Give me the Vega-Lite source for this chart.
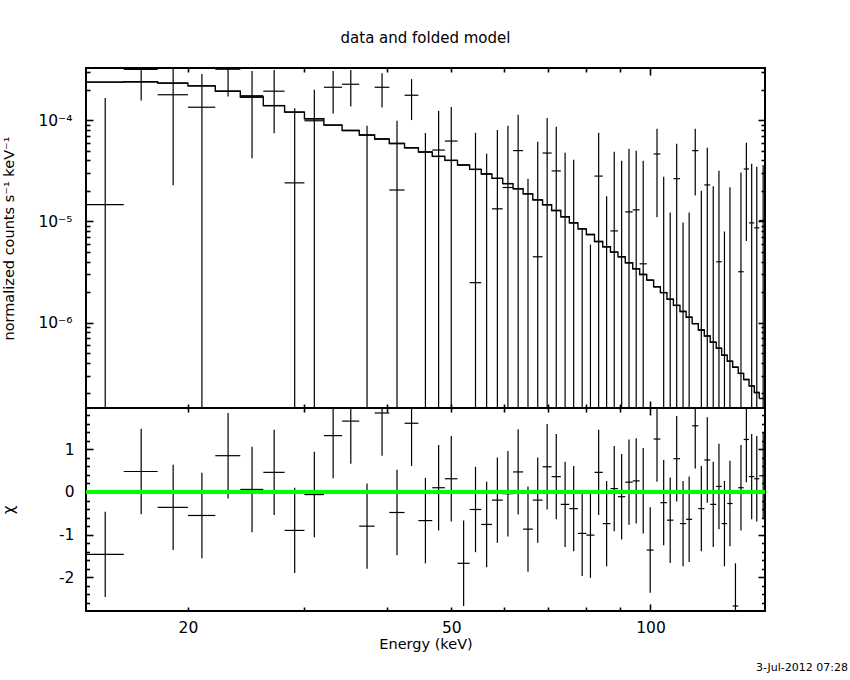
{
  "$schema": "https://vega.github.io/schema/vega-lite/v6.json",
  "background": "white",
  "padding": {"left": 0, "top": 31, "right": 2, "bottom": 2},
  "title": {"text": "data and folded model", "frame": "group", "anchor": "middle", "baseline": "alphabetic", "offset": 8, "font": "DejaVu Sans", "fontSize": 15, "fontWeight": "normal", "color": "black"},
  "data": {"values": [
    {"elo": 14, "ehi": 16, "e": 15, "m": 2.37e-4, "y": 1.46e-5, "ylo": 1e-8, "yhi": 1.65e-4, "chi": -1.46, "clo": -2.46, "chi_hi": -0.46},
    {"elo": 16, "ehi": 18, "e": 17, "m": 2.39e-4, "y": 3.16e-4, "ylo": 1.56e-4, "yhi": 4.8e-4, "chi": 0.48, "clo": -0.52, "chi_hi": 1.48},
    {"elo": 18, "ehi": 20, "e": 19, "m": 2.32e-4, "y": 1.78e-4, "ylo": 2.27e-5, "yhi": 3.33e-4, "chi": -0.36, "clo": -1.36, "chi_hi": 0.64},
    {"elo": 20, "ehi": 22, "e": 21, "m": 2.18e-4, "y": 1.34e-4, "ylo": 1e-8, "yhi": 2.86e-4, "chi": -0.55, "clo": -1.55, "chi_hi": 0.45},
    {"elo": 22, "ehi": 24, "e": 23, "m": 1.93e-4, "y": 3.18e-4, "ylo": 1.71e-4, "yhi": 4.65e-4, "chi": 0.85, "clo": -0.15, "chi_hi": 1.85},
    {"elo": 24, "ehi": 26, "e": 25, "m": 1.69e-4, "y": 1.74e-4, "ylo": 4.2e-5, "yhi": 3.06e-4, "chi": 0.06, "clo": -0.94, "chi_hi": 1.06},
    {"elo": 26, "ehi": 28, "e": 27, "m": 1.39e-4, "y": 1.93e-4, "ylo": 7.4e-5, "yhi": 3.13e-4, "chi": 0.46, "clo": -0.54, "chi_hi": 1.46},
    {"elo": 28, "ehi": 30, "e": 29, "m": 1.2e-4, "y": 2.4e-5, "ylo": 1e-8, "yhi": 1.31e-4, "chi": -0.9, "clo": -1.9, "chi_hi": 0.1},
    {"elo": 30, "ehi": 32.1, "e": 31.05, "m": 1.03e-4, "y": 9.85e-5, "ylo": 1e-8, "yhi": 1.99e-4, "chi": -0.06, "clo": -1.06, "chi_hi": 0.94},
    {"elo": 32.1, "ehi": 34.2, "e": 33.15, "m": 8.93e-5, "y": 2.11e-4, "ylo": 1.16e-4, "yhi": 3.06e-4, "chi": 1.32, "clo": 0.32, "chi_hi": 2.32},
    {"elo": 34.2, "ehi": 36.3, "e": 35.25, "m": 7.9e-5, "y": 2.26e-4, "ylo": 1.36e-4, "yhi": 3.13e-4, "chi": 1.66, "clo": 0.66, "chi_hi": 2.66},
    {"elo": 36.3, "ehi": 38.3, "e": 37.3, "m": 7.12e-5, "y": null, "ylo": 1e-8, "yhi": 8.79e-5, "chi": -0.8, "clo": -1.8, "chi_hi": 0.2},
    {"elo": 38.3, "ehi": 40.3, "e": 39.3, "m": 6.5e-5, "y": 2.11e-4, "ylo": 1.33e-4, "yhi": 2.9e-4, "chi": 1.85, "clo": 0.85, "chi_hi": 2.85},
    {"elo": 40.3, "ehi": 42.5, "e": 41.4, "m": 5.88e-5, "y": 2.04e-5, "ylo": 1e-8, "yhi": 9.85e-5, "chi": -0.48, "clo": -1.48, "chi_hi": 0.52},
    {"elo": 42.5, "ehi": 44.6, "e": 43.55, "m": 5.33e-5, "y": 1.76e-4, "ylo": 1.0e-4, "yhi": 2.54e-4, "chi": 1.61, "clo": 0.61, "chi_hi": 2.61},
    {"elo": 44.6, "ehi": 46.8, "e": 45.7, "m": 4.84e-5, "y": null, "ylo": 1e-8, "yhi": 7.44e-5, "chi": -0.67, "clo": -1.67, "chi_hi": 0.33},
    {"elo": 46.8, "ehi": 48.9, "e": 47.85, "m": 4.38e-5, "y": 5.06e-5, "ylo": 1e-8, "yhi": 1.24e-4, "chi": 0.1, "clo": -0.9, "chi_hi": 1.1},
    {"elo": 48.9, "ehi": 51.1, "e": 50.0, "m": 4.0e-5, "y": 6.21e-5, "ylo": 1e-8, "yhi": 1.35e-4, "chi": 0.31, "clo": -0.69, "chi_hi": 1.31},
    {"elo": 51.1, "ehi": 53.3, "e": 52.2, "m": 3.6e-5, "y": null, "ylo": null, "yhi": null, "chi": -1.67, "clo": -2.67, "chi_hi": -0.67},
    {"elo": 53.3, "ehi": 55.5, "e": 54.4, "m": 3.26e-5, "y": 2.48e-6, "ylo": 1e-8, "yhi": 7.5e-5, "chi": -0.41, "clo": -1.41, "chi_hi": 0.59},
    {"elo": 55.5, "ehi": 57.6, "e": 56.55, "m": 2.94e-5, "y": null, "ylo": 1e-8, "yhi": 4.66e-5, "chi": -0.76, "clo": -1.76, "chi_hi": 0.24},
    {"elo": 57.6, "ehi": 59.8, "e": 58.7, "m": 2.66e-5, "y": 1.33e-5, "ylo": 1e-8, "yhi": 8.0e-5, "chi": -0.19, "clo": -1.19, "chi_hi": 0.81},
    {"elo": 59.8, "ehi": 62.0, "e": 60.9, "m": 2.36e-5, "y": 2.16e-5, "ylo": 1e-8, "yhi": 8.8e-5, "chi": -0.04, "clo": -1.04, "chi_hi": 0.96},
    {"elo": 62.0, "ehi": 64.2, "e": 63.1, "m": 2.1e-5, "y": 5.0e-5, "ylo": 1e-8, "yhi": 1.13e-4, "chi": 0.47, "clo": -0.53, "chi_hi": 1.47},
    {"elo": 64.2, "ehi": 66.4, "e": 65.3, "m": 1.87e-5, "y": null, "ylo": 1e-8, "yhi": 2.64e-5, "chi": -0.87, "clo": -1.87, "chi_hi": 0.13},
    {"elo": 66.4, "ehi": 68.7, "e": 67.55, "m": 1.63e-5, "y": 4.47e-6, "ylo": 1e-8, "yhi": 6.1e-5, "chi": -0.19, "clo": -1.19, "chi_hi": 0.81},
    {"elo": 68.7, "ehi": 70.9, "e": 69.8, "m": 1.46e-5, "y": 4.73e-5, "ylo": 1e-8, "yhi": 1.05e-4, "chi": 0.59, "clo": -0.41, "chi_hi": 1.59},
    {"elo": 70.9, "ehi": 73.2, "e": 72.05, "m": 1.28e-5, "y": 3.15e-5, "ylo": 1e-8, "yhi": 8.6e-5, "chi": 0.36, "clo": -0.64, "chi_hi": 1.36},
    {"elo": 73.2, "ehi": 75.4, "e": 74.3, "m": 1.11e-5, "y": null, "ylo": 1e-8, "yhi": 4.77e-5, "chi": -0.29, "clo": -1.29, "chi_hi": 0.71},
    {"elo": 75.4, "ehi": 77.7, "e": 76.55, "m": 9.66e-6, "y": null, "ylo": 1e-8, "yhi": 4.06e-5, "chi": -0.39, "clo": -1.39, "chi_hi": 0.61},
    {"elo": 77.7, "ehi": 80.0, "e": 78.85, "m": 8.43e-6, "y": null, "ylo": 1e-8, "yhi": 8.6e-6, "chi": -0.97, "clo": -1.97, "chi_hi": 0.03},
    {"elo": 80.0, "ehi": 82.3, "e": 81.15, "m": 7.41e-6, "y": null, "ylo": 1e-8, "yhi": 5.9e-6, "chi": -1.01, "clo": -2.01, "chi_hi": -0.01},
    {"elo": 82.3, "ehi": 84.7, "e": 83.5, "m": 6.32e-6, "y": 2.8e-5, "ylo": 1e-8, "yhi": 7.5e-5, "chi": 0.46, "clo": -0.54, "chi_hi": 1.46},
    {"elo": 84.7, "ehi": 87.0, "e": 85.85, "m": 5.61e-6, "y": null, "ylo": 1e-8, "yhi": 1.77e-5, "chi": -0.74, "clo": -1.74, "chi_hi": 0.26},
    {"elo": 87.0, "ehi": 89.3, "e": 88.15, "m": 4.97e-6, "y": 8.05e-6, "ylo": 1e-8, "yhi": 4.87e-5, "chi": 0.08, "clo": -0.92, "chi_hi": 1.08},
    {"elo": 89.3, "ehi": 91.6, "e": 90.45, "m": 4.47e-6, "y": null, "ylo": 1e-8, "yhi": 3.97e-5, "chi": -0.11, "clo": -1.11, "chi_hi": 0.89},
    {"elo": 91.6, "ehi": 94.0, "e": 92.8, "m": 3.9e-6, "y": 1.24e-5, "ylo": 1e-8, "yhi": 5.21e-5, "chi": 0.23, "clo": -0.77, "chi_hi": 1.23},
    {"elo": 94.0, "ehi": 96.3, "e": 95.15, "m": 3.4e-6, "y": 1.3e-5, "ylo": 1e-8, "yhi": 4.99e-5, "chi": 0.26, "clo": -0.74, "chi_hi": 1.26},
    {"elo": 96.3, "ehi": 98.7, "e": 97.5, "m": 2.99e-6, "y": 3.81e-6, "ylo": 1e-8, "yhi": 3.97e-5, "chi": 0.03, "clo": -0.97, "chi_hi": 1.03},
    {"elo": 98.7, "ehi": 101.1, "e": 99.9, "m": 2.63e-6, "y": null, "ylo": null, "yhi": null, "chi": -1.36, "clo": -2.36, "chi_hi": -0.36},
    {"elo": 101.1, "ehi": 103.5, "e": 102.3, "m": 2.26e-6, "y": 4.63e-5, "ylo": 1.1e-5, "yhi": 8.2e-5, "chi": 1.24, "clo": 0.24, "chi_hi": 2.24},
    {"elo": 103.5, "ehi": 105.9, "e": 104.7, "m": 1.98e-6, "y": null, "ylo": 1e-8, "yhi": 2.76e-5, "chi": -0.25, "clo": -1.25, "chi_hi": 0.75},
    {"elo": 105.9, "ehi": 108.3, "e": 107.1, "m": 1.7e-6, "y": null, "ylo": 1e-8, "yhi": 1.22e-5, "chi": -0.66, "clo": -1.66, "chi_hi": 0.34},
    {"elo": 108.3, "ehi": 110.8, "e": 109.55, "m": 1.48e-6, "y": 2.64e-5, "ylo": 1e-8, "yhi": 5.85e-5, "chi": 0.78, "clo": -0.22, "chi_hi": 1.78},
    {"elo": 110.8, "ehi": 113.2, "e": 112.0, "m": 1.29e-6, "y": null, "ylo": 1e-8, "yhi": 9.72e-6, "chi": -0.74, "clo": -1.74, "chi_hi": 0.26},
    {"elo": 113.2, "ehi": 115.6, "e": 114.4, "m": 1.13e-6, "y": null, "ylo": 1e-8, "yhi": 1.22e-5, "chi": -0.64, "clo": -1.64, "chi_hi": 0.36},
    {"elo": 115.6, "ehi": 118.1, "e": 116.85, "m": 9.77e-7, "y": 4.99e-5, "ylo": 1.8e-5, "yhi": 8.2e-5, "chi": 1.55, "clo": 0.55, "chi_hi": 2.55},
    {"elo": 118.1, "ehi": 120.6, "e": 119.35, "m": 8.46e-7, "y": null, "ylo": 1e-8, "yhi": 2.01e-5, "chi": -0.39, "clo": -1.39, "chi_hi": 0.61},
    {"elo": 120.6, "ehi": 123.1, "e": 121.85, "m": 7.38e-7, "y": 2.29e-5, "ylo": 1e-8, "yhi": 5.33e-5, "chi": 0.75, "clo": -0.25, "chi_hi": 1.75},
    {"elo": 123.1, "ehi": 125.7, "e": 124.4, "m": 6.4e-7, "y": null, "ylo": 1e-8, "yhi": 2.22e-5, "chi": -0.29, "clo": -1.29, "chi_hi": 0.71},
    {"elo": 125.7, "ehi": 128.1, "e": 126.9, "m": 5.58e-7, "y": 3.99e-6, "ylo": 1e-8, "yhi": 3.16e-5, "chi": 0.13, "clo": -0.87, "chi_hi": 1.13},
    {"elo": 128.1, "ehi": 130.6, "e": 129.35, "m": 4.76e-7, "y": null, "ylo": 1e-8, "yhi": 7.94e-6, "chi": -0.74, "clo": -1.74, "chi_hi": 0.26},
    {"elo": 130.6, "ehi": 133.1, "e": 131.85, "m": 4.16e-7, "y": null, "ylo": 1e-8, "yhi": 2.17e-5, "chi": -0.27, "clo": -1.27, "chi_hi": 0.73},
    {"elo": 133.1, "ehi": 135.7, "e": 134.4, "m": 3.63e-7, "y": null, "ylo": null, "yhi": null, "chi": -2.67, "clo": -3.67, "chi_hi": -1.67},
    {"elo": 135.7, "ehi": 138.3, "e": 137.0, "m": 3.15e-7, "y": 3.18e-6, "ylo": 1e-8, "yhi": 3.03e-5, "chi": 0.1, "clo": -0.9, "chi_hi": 1.1},
    {"elo": 138.3, "ehi": 140.9, "e": 139.6, "m": 2.74e-7, "y": 3.29e-5, "ylo": 6.4e-6, "yhi": 5.97e-5, "chi": 1.23, "clo": 0.23, "chi_hi": 2.23},
    {"elo": 140.9, "ehi": 143.5, "e": 142.2, "m": 2.37e-7, "y": 9.66e-6, "ylo": 1e-8, "yhi": 3.71e-5, "chi": 0.36, "clo": -0.64, "chi_hi": 1.36},
    {"elo": 143.5, "ehi": 146.0, "e": 144.75, "m": 2.04e-7, "y": 8.63e-6, "ylo": 1e-8, "yhi": 3.47e-5, "chi": 0.31, "clo": -0.69, "chi_hi": 1.31},
    {"elo": 146.0, "ehi": 150.0, "e": 148.0, "m": 1.78e-7, "y": 1.02e-5, "ylo": 1e-8, "yhi": 3.6e-5, "chi": 0.38, "clo": -0.62, "chi_hi": 1.38}
  ]},
  "spacing": 0,
  "bounds": "flush",
  "vconcat": [
    {
      "width": 679,
      "height": 340,
      "layer": [
        {
          "mark": {"type": "rule", "clip": true, "strokeWidth": 1.2, "color": "black"},
          "encoding": {
            "x": {"field": "e", "type": "quantitative",
              "scale": {"type": "log", "domain": [14.03, 148.95], "nice": false, "clamp": true},
              "axis": {"orient": "bottom", "values": [20, 30, 40, 50, 60, 70, 80, 90, 100], "labels": false, "title": null,
                "tickSize": {"condition": {"test": "datum.value == 100", "value": -7}, "value": -4}}},
            "y": {"field": "ylo", "type": "quantitative",
              "scale": {"type": "log", "domain": [1.435e-7, 3.27e-4], "nice": false, "clamp": true},
              "axis": {"orient": "left",
                "values": [2e-7, 3e-7, 4e-7, 5e-7, 6e-7, 7e-7, 8e-7, 9e-7, 1e-6, 2e-6, 3e-6, 4e-6, 5e-6, 6e-6, 7e-6, 8e-6, 9e-6, 1e-5, 2e-5, 3e-5, 4e-5, 5e-5, 6e-5, 7e-5, 8e-5, 9e-5, 1e-4, 2e-4, 3e-4],
                "labelExpr": "datum.value == 1e-4 ? '10⁻⁴' : datum.value == 1e-5 ? '10⁻⁵' : datum.value == 1e-6 ? '10⁻⁶' : ''",
                "labelFontSize": 15.5, "labelPadding": 21,
                "tickSize": {"condition": {"test": "datum.value == 1e-4 || datum.value == 1e-5 || datum.value == 1e-6", "value": -7}, "value": -4},
                "title": "normalized counts s⁻¹  keV⁻¹", "titleX": -73, "titleY": 170, "titleBaseline": "alphabetic", "titleFontSize": 14.5}},
            "y2": {"field": "yhi"}
          }
        },
        {
          "mark": {"type": "rule", "clip": true, "strokeWidth": 1.2, "color": "black"},
          "encoding": {
            "x": {"field": "elo", "type": "quantitative",
              "axis": {"orient": "top", "values": [20, 30, 40, 50, 60, 70, 80, 90, 100], "labels": false, "title": null,
                "tickSize": {"condition": {"test": "datum.value == 100", "value": -7}, "value": -4}}},
            "x2": {"field": "ehi"},
            "y": {"field": "y", "type": "quantitative",
              "axis": {"orient": "right",
                "values": [2e-7, 3e-7, 4e-7, 5e-7, 6e-7, 7e-7, 8e-7, 9e-7, 1e-6, 2e-6, 3e-6, 4e-6, 5e-6, 6e-6, 7e-6, 8e-6, 9e-6, 1e-5, 2e-5, 3e-5, 4e-5, 5e-5, 6e-5, 7e-5, 8e-5, 9e-5, 1e-4, 2e-4, 3e-4],
                "labels": false, "title": null,
                "tickSize": {"condition": {"test": "datum.value == 1e-4 || datum.value == 1e-5 || datum.value == 1e-6", "value": -7}, "value": -4}}}
          }
        },
        {
          "mark": {"type": "rule", "clip": true, "strokeWidth": 1.4, "color": "black"},
          "encoding": {
            "x": {"field": "elo", "type": "quantitative", "axis": null},
            "x2": {"field": "ehi"},
            "y": {"field": "m", "type": "quantitative", "axis": null}
          }
        },
        {
          "mark": {"type": "line", "clip": true, "strokeWidth": 1.4, "color": "black", "interpolate": "step-after"},
          "encoding": {
            "x": {"field": "elo", "type": "quantitative", "axis": null},
            "y": {"field": "m", "type": "quantitative", "axis": null}
          }
        }
      ],
      "resolve": {"axis": {"x": "independent", "y": "independent"}}
    },
    {
      "width": 679,
      "height": 203,
      "title": {"text": "3-Jul-2012 07:28", "orient": "bottom", "anchor": "end", "frame": "group", "dx": 83, "offset": 11, "baseline": "top", "font": "DejaVu Sans", "fontSize": 11, "fontWeight": "normal", "color": "black"},
      "layer": [
        {
          "mark": {"type": "rule", "clip": true, "strokeWidth": 1.2, "color": "black"},
          "encoding": {
            "x": {"field": "e", "type": "quantitative",
              "scale": {"type": "log", "domain": [14.03, 148.95], "nice": false, "clamp": true},
              "axis": {"orient": "bottom", "values": [20, 30, 40, 50, 60, 70, 80, 90, 100],
                "labelExpr": "datum.value == 20 || datum.value == 50 || datum.value == 100 ? '' + datum.value : ''",
                "labelFontSize": 15.5, "labelFlush": false,
                "labelPadding": {"condition": {"test": "datum.value == 100", "value": 16}, "value": 13},
                "tickSize": {"condition": {"test": "datum.value == 100", "value": -7}, "value": -4},
                "title": "Energy (keV)", "titleY": 26, "titleBaseline": "top", "titleFontSize": 14.5}},
            "y": {"field": "clo", "type": "quantitative",
              "scale": {"domain": [-2.787, 1.967], "nice": false, "zero": false, "clamp": true},
              "axis": {"orient": "left",
                "values": [-2.6, -2.4, -2.2, -2, -1.8, -1.6, -1.4, -1.2, -1, -0.8, -0.6, -0.4, -0.2, 0, 0.2, 0.4, 0.6, 0.8, 1, 1.2, 1.4, 1.6, 1.8],
                "labelExpr": "datum.value == 1 ? '1' : datum.value == 0 ? '0' : datum.value == -1 ? '-1' : datum.value == -2 ? '-2' : ''",
                "labelFontSize": 15.5, "labelPadding": 19,
                "tickSize": {"condition": {"test": "datum.value == 1 || datum.value == 0 || datum.value == -1 || datum.value == -2", "value": -7}, "value": -3.5},
                "title": "χ", "titleX": -73, "titleY": 101.5, "titleBaseline": "alphabetic", "titleFontSize": 15}},
            "y2": {"field": "chi_hi"}
          }
        },
        {
          "mark": {"type": "rule", "clip": true, "strokeWidth": 1.2, "color": "black"},
          "encoding": {
            "x": {"field": "elo", "type": "quantitative",
              "axis": {"orient": "top", "values": [20, 30, 40, 50, 60, 70, 80, 90, 100], "labels": false, "title": null,
                "tickSize": {"condition": {"test": "datum.value == 100", "value": -7}, "value": -4}}},
            "x2": {"field": "ehi"},
            "y": {"field": "chi", "type": "quantitative",
              "axis": {"orient": "right",
                "values": [-2.6, -2.4, -2.2, -2, -1.8, -1.6, -1.4, -1.2, -1, -0.8, -0.6, -0.4, -0.2, 0, 0.2, 0.4, 0.6, 0.8, 1, 1.2, 1.4, 1.6, 1.8],
                "labels": false, "title": null,
                "tickSize": {"condition": {"test": "datum.value == 1 || datum.value == 0 || datum.value == -1 || datum.value == -2", "value": -7}, "value": -3.5}}}
          }
        },
        {
          "mark": {"type": "rule", "clip": true, "strokeWidth": 3, "color": "#00ff00"},
          "encoding": {
            "y": {"datum": 0, "type": "quantitative", "axis": null}
          }
        }
      ],
      "resolve": {"axis": {"x": "independent", "y": "independent"}}
    }
  ],
  "config": {
    "view": {"stroke": "black", "strokeWidth": 2},
    "axis": {"grid": false, "domain": false, "tickColor": "black", "tickWidth": 1.6, "labelColor": "black", "titleColor": "black", "labelFont": "DejaVu Sans", "titleFont": "DejaVu Sans", "titleFontWeight": "normal"}
  }
}
